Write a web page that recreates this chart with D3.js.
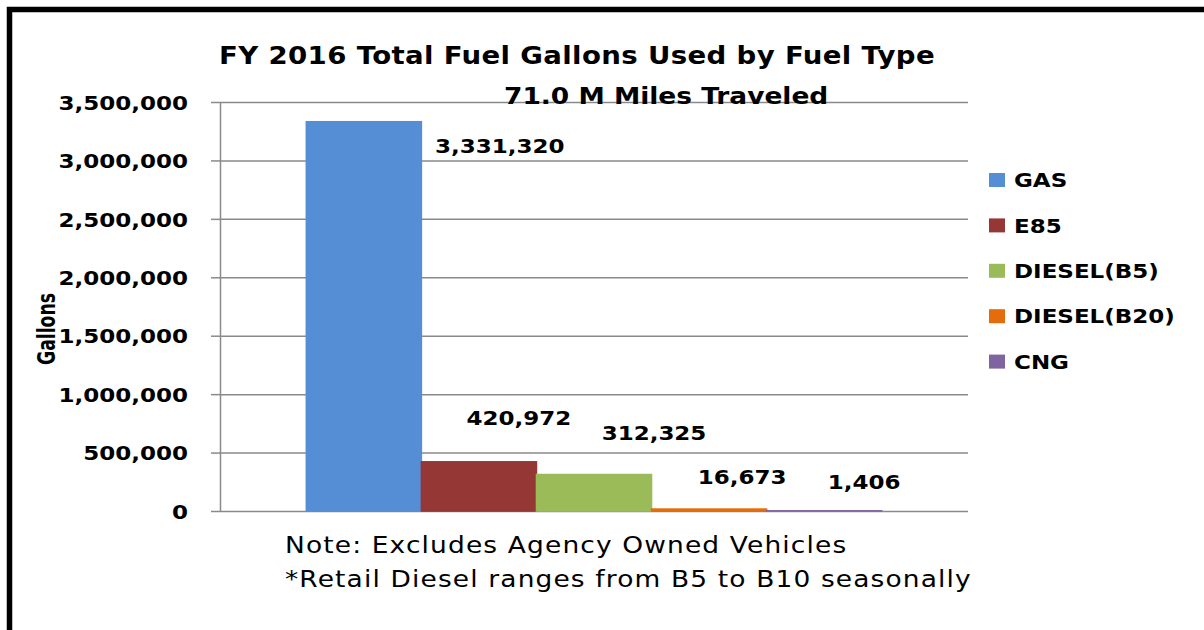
<!DOCTYPE html>
<html lang="en">
<head>
<meta charset="UTF-8">
<title>FY 2016 Total Fuel Gallons Used by Fuel Type</title>
<script src="https://d3js.org/d3.v7.min.js"></script>
<style>
    body { margin: 0; background: #fff; }
    text { font-family: "DejaVu Sans", sans-serif; fill: #000; }
</style>
</head>
<body>
<svg id="main" width="1204" height="630"></svg>
<script>

    // data
    const fuelTypes = ['GAS', 'E85', 'DIESEL(B5)', 'DIESEL(B20)', 'CNG'];
    const gallons = [3331320, 420972, 312325, 16673, 1406];
    const yTicks = [0, 500000, 1000000, 1500000, 2000000, 2500000, 3000000, 3500000];
    const titleText = 'FY 2016 Total Fuel Gallons Used by Fuel Type';
    const subtitleText = '71.0 M Miles Traveled';
    const yLabel = 'Gallons';
    const notes = ['Note: Excludes Agency Owned Vehicles', '*Retail Diesel ranges from B5 to B10 seasonally'];

    const fuelColors = ['#558ED5', '#953735', '#9BBB59', '#E46C0A', '#8064A2'];
    // labels were dragged around by hand in the original, so nudge them from the bar top
    const labelNudge = [[136, 24], [40, -44], [60, -42], [33, -32], [40, -29]];

    const SX = 1.15; // the source picture is stretched sideways, stretch text the same way
    const plot = {left: 220, right: 968, top: 102, bottom: 511};

    const svg = d3.select('svg#main');

    // outer frame
    svg.append('rect')
        .attr('x', 9.5).attr('y', 9.5)
        .attr('width', 1300).attr('height', 700)
        .attr('fill', 'none')
        .attr('stroke', '#000')
        .attr('stroke-width', 5.5);

    const y = d3.scaleLinear().domain([0, 3500000]).range([plot.bottom, plot.top]);
    const x = d3.scaleBand()
        .domain(fuelTypes)
        .range([plot.left, plot.right])
        .paddingInner(0)
        .paddingOuter(0.75);

    function stretch(sel, tx, ty) {
        return sel.attr('transform', `translate(${tx},${ty}) scale(${SX},1)`);
    }

    // gridlines
    const grid = svg.append('g')
        .attr('transform', `translate(${plot.left},0)`)
        .call(d3.axisLeft(y).tickValues(yTicks).tickSize(-(plot.right - plot.left)).tickFormat(''));
    grid.select('.domain').remove();
    grid.selectAll('line').attr('stroke', '#8a8a8a').attr('stroke-width', 1.5);

    // y axis with tick marks and labels
    const yAxis = svg.append('g')
        .attr('transform', `translate(${plot.left},0)`)
        .call(d3.axisLeft(y).tickValues(yTicks).tickSize(9).tickSizeOuter(0).tickFormat(d3.format(',')));
    yAxis.attr('font-family', 'DejaVu Sans')
        .attr('font-size', 20)
        .attr('font-weight', 'bold');
    yAxis.select('.domain').attr('stroke', '#8a8a8a').attr('stroke-width', 1.5);
    yAxis.selectAll('.tick line').attr('stroke', '#8a8a8a').attr('stroke-width', 1.5);
    yAxis.selectAll('.tick text')
        .attr('x', 0)
        .attr('dy', '0.36em')
        .attr('fill', '#000')
        .attr('transform', `translate(-32,0) scale(${SX},1)`);

    // bars
    svg.append('g').selectAll('rect')
        .data(gallons)
        .join('rect')
        .attr('x', (d, i) => x(fuelTypes[i]))
        .attr('y', d => y(d))
        .attr('width', x.bandwidth())
        .attr('height', d => y(0) - y(d))
        .attr('fill', (d, i) => fuelColors[i])
        .attr('stroke', (d, i) => fuelColors[i])
        .attr('stroke-width', 1.5);

    // value labels
    svg.append('g').selectAll('text')
        .data(gallons)
        .join('text')
        .attr('text-anchor', 'middle')
        .attr('dy', '0.36em')
        .attr('font-size', 20)
        .attr('font-weight', 'bold')
        .text(d => d3.format(',')(d))
        .each(function(d, i) {
            stretch(d3.select(this),
                x(fuelTypes[i]) + x.bandwidth() / 2 + labelNudge[i][0],
                y(d) + labelNudge[i][1]);
        });

    // titles
    stretch(svg.append('text'), 577, 64)
        .attr('text-anchor', 'middle')
        .attr('font-size', 24)
        .attr('font-weight', 'bold')
        .attr('letter-spacing', 0.3)
        .text(titleText);

    stretch(svg.append('text'), 504, 104)
        .attr('text-anchor', 'start')
        .attr('font-size', 23)
        .attr('font-weight', 'bold')
        .text(subtitleText);

    // y label
    svg.append('text')
        .attr('transform', `translate(55,329) scale(${SX},1) rotate(-90)`)
        .attr('text-anchor', 'middle')
        .attr('font-size', 21)
        .attr('font-weight', 'bold')
        .attr('textLength', 72)
        .attr('lengthAdjust', 'spacingAndGlyphs')
        .text(yLabel);

    // notes under the plot
    svg.append('g').selectAll('text')
        .data(notes)
        .join('text')
        .attr('font-size', 23)
        .attr('letter-spacing', 1)
        .text(d => d)
        .each(function(d, i) {
            stretch(d3.select(this), 285, 553 + i * 34);
        });

    // legend
    const legend = svg.append('g').selectAll('g')
        .data(fuelTypes)
        .join('g')
        .attr('transform', (d, i) => `translate(989,${180 + i * 45.4})`);

    legend.append('rect')
        .attr('x', 0).attr('y', -7)
        .attr('width', 16).attr('height', 14)
        .attr('fill', (d, i) => fuelColors[i]);

    legend.append('text')
        .attr('dy', '0.36em')
        .attr('font-size', 20)
        .attr('font-weight', 'bold')
        .attr('transform', `translate(25,0) scale(${SX},1)`)
        .text(d => d);

</script>
</body>
</html>
